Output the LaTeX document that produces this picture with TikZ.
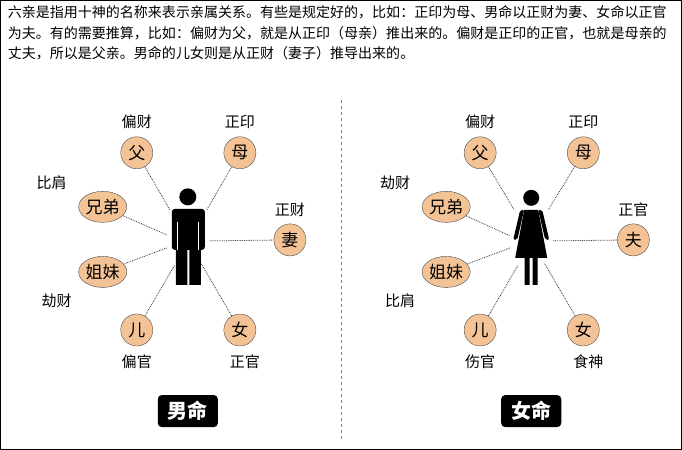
\documentclass[tikz,border=0pt]{standalone}
\usepackage{fontspec}
\setmainfont{Noto Sans CJK SC}
\usetikzlibrary{shapes.geometric}
\definecolor{peach}{HTML}{F3C396}
\tikzset{
    kin/.style={circle,draw=black!70,fill=peach,minimum size=32pt,inner sep=0pt,font=\fontsize{17}{17}\selectfont},
    kinwide/.style={ellipse,draw=black!70,fill=peach,minimum width=46pt,minimum height=31pt,inner sep=0pt,font=\fontsize{17}{17}\selectfont},
    god/.style={font=\fontsize{15}{15}\selectfont},
    tie/.style={densely dotted,line width=0.8pt,black!80},
    banner/.style={fill=black,rounded corners=4pt,text=white,font=\fontsize{20}{20}\selectfont\bfseries,minimum width=60pt,minimum height=32pt}
}
\begin{document}
\begin{tikzpicture}[x=1pt,y=-1pt]
    \draw[black,line width=1.2pt,fill=white] (1,1) rectangle (681,449);
    \node[anchor=north west,align=left,inner sep=0pt,font=\fontsize{14}{20.5}\selectfont] (intro) at (8,6)
        {六亲是指用十神的名称来表示亲属关系。有些是规定好的，比如：正印为母、男命以正财为妻、女命以正官\\为夫。有的需要推算，比如：偏财为父，就是从正印（母亲）推出来的。偏财是正印的正官，也就是母亲的\\丈夫，所以是父亲。男命的儿女则是从正财（妻子）推导出来的。};
    \draw[dashed,black!50] (341,100) -- (341,440);
    % male side
    \fill (188,197) circle (8.5);
    \fill[rounded corners=3pt] (172,209) rectangle (205,250);
    \fill (176,245) rectangle (187.5,285) (189.5,245) rectangle (201,285);
    \draw[white,line width=1pt] (178,222) -- (178,250) (199,222) -- (199,250);
    \node[kin] (m-fu) at (137,153) {父};
    \node[kin] (m-mu) at (240,153) {母};
    \node[kinwide] (m-xd) at (103,207) {兄弟};
    \node[kinwide] (m-jm) at (103,272) {姐妹};
    \node[kin] (m-qi) at (290,240) {妻};
    \node[kin] (m-er) at (137,330) {儿};
    \node[kin] (m-nv) at (240,330) {女};
    \node[god] (m-g1) at (137,122) {偏财};
    \node[god] (m-g2) at (240,122) {正印};
    \node[god] (m-g3) at (52,183) {比肩};
    \node[god] (m-g4) at (57,301) {劫财};
    \node[god] (m-g5) at (290,210) {正财};
    \node[god] (m-g6) at (137,362) {偏官};
    \node[god] (m-g7) at (245,362) {正官};
    \coordinate (m-p1) at (170,210);
    \coordinate (m-p2) at (207,210);
    \coordinate (m-p3) at (167,235);
    \coordinate (m-p4) at (167,248);
    \coordinate (m-p5) at (210,241);
    \coordinate (m-p6) at (175,265);
    \coordinate (m-p7) at (201,263);
    \draw[tie] (m-fu) -- (m-p1) (m-mu) -- (m-p2) (m-xd) -- (m-p3) (m-jm) -- (m-p4)
        (m-qi) -- (m-p5) (m-er) -- (m-p6) (m-nv) -- (m-p7);
    \node[banner] (m-ban) at (188,411) {男命};
    % female side
    \fill (531,198) circle (8);
    \fill (524,210) -- (538,210) -- (547,258) -- (515,258) -- cycle;
    \fill[rounded corners=2pt] (520,210) -- (524,210) -- (517,240) -- (513,240) -- cycle
        (538,210) -- (542,210) -- (549,240) -- (545,240) -- cycle;
    \fill (524.5,256) rectangle (529.5,285) (532.5,256) rectangle (537.5,285);
    \node[kin] (f-fu) at (480,153) {父};
    \node[kin] (f-mu) at (583,153) {母};
    \node[kinwide] (f-xd) at (446,207) {兄弟};
    \node[kinwide] (f-jm) at (446,272) {姐妹};
    \node[kin] (f-fu2) at (633,240) {夫};
    \node[kin] (f-er) at (480,330) {儿};
    \node[kin] (f-nv) at (583,330) {女};
    \node[god] (f-g1) at (480,122) {偏财};
    \node[god] (f-g2) at (583,122) {正印};
    \node[god] (f-g3) at (395,183) {劫财};
    \node[god] (f-g4) at (400,301) {比肩};
    \node[god] (f-g5) at (633,210) {正官};
    \node[god] (f-g6) at (480,362) {伤官};
    \node[god] (f-g7) at (588,362) {食神};
    \coordinate (f-p1) at (514,210);
    \coordinate (f-p2) at (548,210);
    \coordinate (f-p3) at (510,236);
    \coordinate (f-p4) at (510,248);
    \coordinate (f-p5) at (553,241);
    \coordinate (f-p6) at (518,265);
    \coordinate (f-p7) at (544,263);
    \draw[tie] (f-fu) -- (f-p1) (f-mu) -- (f-p2) (f-xd) -- (f-p3) (f-jm) -- (f-p4)
        (f-fu2) -- (f-p5) (f-er) -- (f-p6) (f-nv) -- (f-p7);
    \node[banner] (f-ban) at (531,411) {女命};
\end{tikzpicture}
\end{document}
